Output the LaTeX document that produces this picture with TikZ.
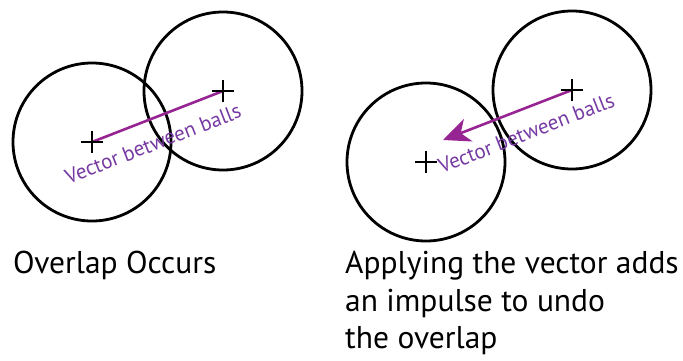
\documentclass[tikz,border=0pt]{standalone}
\usepackage{fontspec}
\setmainfont{PT Sans}
\usepackage{tikz}
\usetikzlibrary{arrows.meta, positioning, calc}
\usepackage{xcolor}
\definecolor{vecline}{RGB}{150,36,146}
\definecolor{veclabel}{RGB}{118,58,162}

\begin{document}
\begin{tikzpicture}[x=1pt, y=-1pt,
    ball/.style={draw, circle, line width=2.8pt, minimum size=158pt, inner sep=0pt},
    vec/.style={draw=vecline, line width=2.6pt},
    veclbl/.style={text=veclabel, font=\fontsize{21}{24}\selectfont, sloped, below=15pt, inner sep=0pt},
    caption/.style={font=\fontsize{31.5}{37.5}\selectfont, inner sep=0pt, align=left}]
  \useasboundingbox (0,0) rectangle (683,361);
  % overlap occurs
  \node[ball] (a1) at (92,142) {};
  \node[ball] (a2) at (223,91) {};
  \draw[vec] (a1.center) -- (a2.center) node[veclbl, pos=0.4] {Vector between balls};
  \foreach \c in {a1, a2}
    \draw[line width=2.8pt] (\c.center) ++(-11,0) -- ++(22,0) ++(-11,-11) -- ++(0,22);
  \node[caption, anchor=base west] (capa) at (13,273) {Overlap Occurs};
  % impulse applied
  \node[ball] (b1) at (426,162) {};
  \node[ball] (b2) at (572,90) {};
  \coordinate (tip) at (443,140);
  \draw[vec, -{Stealth[length=27pt, width=24pt, inset=8pt]}] (b2.center) -- (tip) node[veclbl, pos=0.42] {Vector between balls};
  \foreach \c in {b1, b2}
    \draw[line width=2.8pt] (\c.center) ++(-11,0) -- ++(22,0) ++(-11,-11) -- ++(0,22);
  \node[caption, anchor=north west] (capb) at (345,251) {Applying the vector adds\\an impulse to undo\\the overlap};
\end{tikzpicture}
\end{document}
